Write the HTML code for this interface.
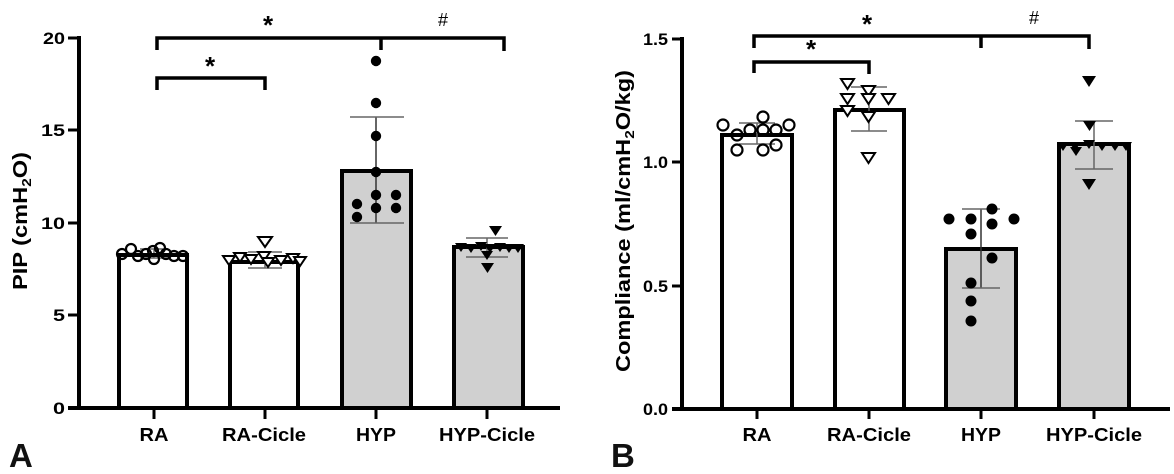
<!DOCTYPE html>
<html><head><meta charset="utf-8"><style>
html,body{margin:0;padding:0;background:#fff;}
svg{display:block;font-family:"Liberation Sans",Arial,sans-serif;}
.t{font-weight:bold;font-size:17px;}
.x{font-weight:bold;font-size:18px;}
</style></head><body>
<svg width="1174" height="474" viewBox="0 0 1174 474" xmlns="http://www.w3.org/2000/svg">
<!-- PANEL A -->
<g>
<line x1="79" y1="36" x2="79" y2="409" stroke="#000" stroke-width="4"/>
<line x1="68" y1="408" x2="560" y2="408" stroke="#000" stroke-width="4"/>
<g stroke="#000" stroke-width="3">
<line x1="68" y1="38" x2="79" y2="38"/><line x1="68" y1="130" x2="79" y2="130"/>
<line x1="68" y1="223" x2="79" y2="223"/><line x1="68" y1="315" x2="79" y2="315"/>
<line x1="154" y1="408" x2="154" y2="419"/><line x1="265" y1="408" x2="265" y2="419"/>
<line x1="376" y1="408" x2="376" y2="419"/><line x1="487" y1="408" x2="487" y2="419"/>
</g>
<g class="t" text-anchor="end" lengthAdjust="spacingAndGlyphs">
<text x="65" y="44" textLength="22" lengthAdjust="spacingAndGlyphs">20</text>
<text x="65" y="136" textLength="24" lengthAdjust="spacingAndGlyphs">15</text>
<text x="65" y="229" textLength="24" lengthAdjust="spacingAndGlyphs">10</text>
<text x="65" y="321" textLength="12" lengthAdjust="spacingAndGlyphs">5</text>
<text x="65" y="414" textLength="12" lengthAdjust="spacingAndGlyphs">0</text>
</g>
<g class="x" text-anchor="middle">
<text x="154" y="441" textLength="29" lengthAdjust="spacingAndGlyphs">RA</text>
<text x="264" y="441" textLength="84" lengthAdjust="spacingAndGlyphs">RA-Cicle</text>
<text x="376" y="441" textLength="40" lengthAdjust="spacingAndGlyphs">HYP</text>
<text x="487" y="441" textLength="96" lengthAdjust="spacingAndGlyphs">HYP-Cicle</text>
</g>
<text transform="translate(27,221) rotate(-90)" text-anchor="middle" font-weight="bold" font-size="20" textLength="138" lengthAdjust="spacingAndGlyphs">PIP (cmH<tspan font-size="13" dy="4">2</tspan><tspan dy="-4">O)</tspan></text>
<g stroke="#000" stroke-width="4">
<rect x="119" y="255" width="68" height="153" fill="#fff"/>
<rect x="230" y="262" width="68" height="146" fill="#fff"/>
<rect x="342" y="171" width="69" height="237" fill="#d0d0d0"/>
<rect x="454" y="247" width="69" height="161" fill="#d0d0d0"/>
</g>
<g stroke="#666" stroke-width="1.5">
<line x1="154" y1="249" x2="154" y2="258"/><line x1="140" y1="249" x2="168" y2="249"/><line x1="140" y1="258" x2="168" y2="258"/>
<line x1="265" y1="252" x2="265" y2="268"/><line x1="248" y1="252" x2="282" y2="252"/><line x1="248" y1="268" x2="282" y2="268"/>
<line x1="376" y1="117" x2="376" y2="223" stroke="#333"/><line x1="350" y1="117" x2="404" y2="117"/><line x1="350" y1="223" x2="404" y2="223"/>
<line x1="487" y1="238" x2="487" y2="257"/><line x1="466" y1="238" x2="508" y2="238"/><line x1="466" y1="257" x2="508" y2="257"/>
</g>
<g fill="none" stroke="#000" stroke-width="2.2">
<circle cx="122" cy="254" r="5"/><circle cx="131" cy="249" r="5"/><circle cx="138" cy="256" r="5"/>
<circle cx="146" cy="254" r="5"/><circle cx="153" cy="251" r="5"/><circle cx="160" cy="248" r="5"/>
<circle cx="154" cy="259" r="5"/><circle cx="166" cy="254" r="5"/><circle cx="174" cy="256" r="5"/>
<circle cx="183" cy="256" r="5"/>
</g>
<g fill="#fff" stroke="#000" stroke-width="2">
<path d="M258,237 h14 l-7,10z"/><path d="M223,256 h12 l-6,9z"/><path d="M234,253 h12 l-6,9z"/>
<path d="M245,255 h12 l-6,9z"/><path d="M258,252 h12 l-6,9z"/><path d="M262,258 h12 l-6,9z"/>
<path d="M275,256 h12 l-6,9z"/><path d="M287,254 h12 l-6,9z"/><path d="M294,257 h12 l-6,9z"/>
</g>
<g fill="#000">
<circle cx="357" cy="204" r="5.2"/><circle cx="376" cy="195" r="5.2"/><circle cx="396" cy="195" r="5.2"/>
<circle cx="357" cy="217" r="5.2"/><circle cx="376" cy="208" r="5.2"/><circle cx="396" cy="208" r="5.2"/>
<circle cx="376" cy="61" r="5.2"/><circle cx="376" cy="103" r="5.2"/><circle cx="376" cy="136" r="5.2"/>
<circle cx="376" cy="172" r="5.2"/>
</g>
<g fill="#000">
<path d="M489,226 h13 l-6.5,10z"/><path d="M455,243 h12 l-6,9z"/><path d="M465,244 h12 l-6,9z"/>
<path d="M475,242 h12 l-6,9z"/><path d="M484,244 h12 l-6,9z"/><path d="M494,243 h12 l-6,9z"/>
<path d="M503,244 h12 l-6,9z"/><path d="M512,244 h12 l-6,9z"/><path d="M481,251 h12 l-6,9z"/>
<path d="M481,263 h13 l-6.5,10z"/>
</g>
<g fill="none" stroke="#000" stroke-width="3.5">
<path d="M157,50 V38 H504 V51"/><path d="M381,38 V50"/>
<path d="M157,90 V78 H265 V90"/>
</g>
<text x="268" y="34" text-anchor="middle" font-size="26" font-weight="bold">*</text>
<text x="210" y="75" text-anchor="middle" font-size="26" font-weight="bold">*</text>
<text x="443" y="26" text-anchor="middle" font-size="18">#</text>
<text x="9" y="467" font-size="33" font-weight="bold" fill="#111">A</text>
</g>

<!-- PANEL B -->
<g>
<line x1="682" y1="37" x2="682" y2="410" stroke="#000" stroke-width="4"/>
<line x1="672" y1="409" x2="1170" y2="409" stroke="#000" stroke-width="4"/>
<g stroke="#000" stroke-width="3">
<line x1="672" y1="39" x2="682" y2="39"/><line x1="672" y1="162" x2="682" y2="162"/>
<line x1="672" y1="286" x2="682" y2="286"/>
<line x1="757" y1="409" x2="757" y2="419"/><line x1="869" y1="409" x2="869" y2="419"/>
<line x1="981" y1="409" x2="981" y2="419"/><line x1="1094" y1="409" x2="1094" y2="419"/>
</g>
<g class="t" text-anchor="end">
<text x="668" y="45" textLength="25" lengthAdjust="spacingAndGlyphs">1.5</text>
<text x="668" y="168" textLength="25" lengthAdjust="spacingAndGlyphs">1.0</text>
<text x="668" y="292" textLength="25" lengthAdjust="spacingAndGlyphs">0.5</text>
<text x="668" y="415" textLength="25" lengthAdjust="spacingAndGlyphs">0.0</text>
</g>
<g class="x" text-anchor="middle">
<text x="757" y="441" textLength="29" lengthAdjust="spacingAndGlyphs">RA</text>
<text x="869" y="441" textLength="84" lengthAdjust="spacingAndGlyphs">RA-Cicle</text>
<text x="981" y="441" textLength="40" lengthAdjust="spacingAndGlyphs">HYP</text>
<text x="1094" y="441" textLength="96" lengthAdjust="spacingAndGlyphs">HYP-Cicle</text>
</g>
<text transform="translate(630,221) rotate(-90)" text-anchor="middle" font-weight="bold" font-size="20" textLength="302" lengthAdjust="spacingAndGlyphs">Compliance (ml/cmH<tspan font-size="13" dy="4">2</tspan><tspan dy="-4">O/kg)</tspan></text>
<g stroke="#000" stroke-width="4">
<rect x="722" y="135" width="70" height="274" fill="#fff"/>
<rect x="835" y="110" width="69" height="299" fill="#fff"/>
<rect x="946" y="249" width="70" height="160" fill="#d0d0d0"/>
<rect x="1059" y="144" width="70" height="265" fill="#d0d0d0"/>
</g>
<g stroke="#666" stroke-width="1.5">
<line x1="757" y1="123" x2="757" y2="144"/><line x1="739" y1="123" x2="775" y2="123"/><line x1="739" y1="144" x2="775" y2="144"/>
<line x1="869" y1="87" x2="869" y2="131"/><line x1="851" y1="87" x2="887" y2="87"/><line x1="851" y1="131" x2="887" y2="131"/>
<line x1="981" y1="209" x2="981" y2="288" stroke="#333"/><line x1="962" y1="209" x2="1000" y2="209"/><line x1="962" y1="288" x2="1000" y2="288"/>
<line x1="1094" y1="121" x2="1094" y2="169"/><line x1="1075" y1="121" x2="1113" y2="121"/><line x1="1075" y1="169" x2="1113" y2="169"/>
</g>
<g fill="none" stroke="#000" stroke-width="2.2">
<circle cx="723" cy="125" r="5.5"/><circle cx="737" cy="135" r="5.5"/><circle cx="750" cy="130" r="5.5"/>
<circle cx="763" cy="130" r="5.5"/><circle cx="776" cy="130" r="5.5"/><circle cx="789" cy="125" r="5.5"/>
<circle cx="763" cy="117" r="5.5"/><circle cx="737" cy="150" r="5.5"/><circle cx="763" cy="150" r="5.5"/>
<circle cx="776" cy="145" r="5.5"/>
</g>
<g fill="#fff" stroke="#000" stroke-width="2">
<path d="M841,79 h13 l-6.5,10z"/><path d="M862,86 h13 l-6.5,10z"/><path d="M841,94 h13 l-6.5,10z"/>
<path d="M862,94 h13 l-6.5,10z"/><path d="M882,94 h13 l-6.5,10z"/><path d="M841,106 h13 l-6.5,10z"/>
<path d="M862,112 h13 l-6.5,10z"/><path d="M862,153 h13 l-6.5,10z"/>
</g>
<g fill="#000">
<circle cx="949" cy="219" r="5.5"/><circle cx="971" cy="219" r="5.5"/><circle cx="992" cy="209" r="5.5"/>
<circle cx="992" cy="224" r="5.5"/><circle cx="1014" cy="219" r="5.5"/><circle cx="971" cy="234" r="5.5"/>
<circle cx="992" cy="258" r="5.5"/><circle cx="971" cy="283" r="5.5"/><circle cx="971" cy="301" r="5.5"/>
<circle cx="971" cy="321" r="5.5"/>
</g>
<g fill="#000">
<path d="M1082,76 h14 l-7,11z"/><path d="M1083,121 h13 l-6.5,10z"/><path d="M1057,142 h12 l-6,9z"/>
<path d="M1069,142 h12 l-6,9z"/><path d="M1083,140 h12 l-6,9z"/><path d="M1096,142 h12 l-6,9z"/>
<path d="M1109,142 h12 l-6,9z"/><path d="M1120,142 h12 l-6,9z"/><path d="M1070,147 h12 l-6,9z"/>
<path d="M1082,179 h14 l-7,11z"/>
</g>
<g fill="none" stroke="#000" stroke-width="3.5">
<path d="M754,48 V36 H1089 V49"/><path d="M981,36 V48"/>
<path d="M754,73 V62 H869 V74"/>
</g>
<text x="867" y="33" text-anchor="middle" font-size="26" font-weight="bold">*</text>
<text x="811" y="58" text-anchor="middle" font-size="26" font-weight="bold">*</text>
<text x="1034" y="24" text-anchor="middle" font-size="18">#</text>
<text x="611" y="467" font-size="33" font-weight="bold" fill="#111">B</text>
</g>
</svg>
</body></html>
